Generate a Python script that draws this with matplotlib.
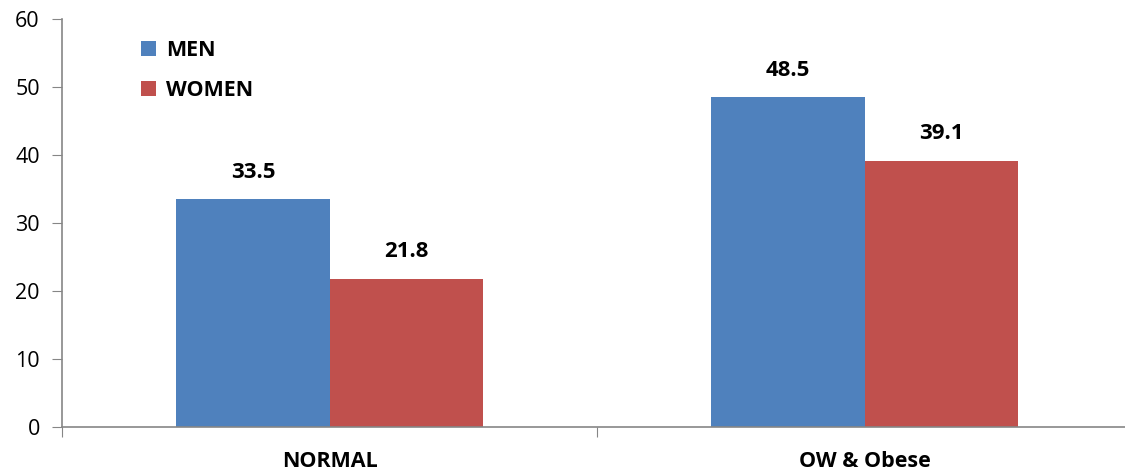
import matplotlib.pyplot as plt
import numpy as np

categories = ["NORMAL", "OW & Obese"]
men = [33.5, 48.5]
women = [21.8, 39.1]

plt.rcParams['font.family'] = ['Open Sans', 'DejaVu Sans']

fig = plt.figure(figsize=(11.25, 4.73), dpi=100)
ax = fig.add_axes([62/1125, 1-427/473, 1070/1125, 408/473])

x = np.arange(len(categories))
w = 0.286
b1 = ax.bar(x - w/2, men, w, color='#4f81bd', label='MEN')
b2 = ax.bar(x + w/2, women, w, color='#c0504d', label='WOMEN')

for bars, vals in ((b1, men), (b2, women)):
    for r, v in zip(bars, vals):
        ax.text(r.get_x() + r.get_width()/2, v + 4.0, f"{v:.1f}", ha='center', va='center',
                fontsize=16, fontweight='bold')

ax.set_xlim(-0.5, 1.5)
ax.set_ylim(0, 60)
ax.set_yticks(range(0, 61, 10))
ax.tick_params(axis='y', direction='out', length=7, color='#868686', labelsize=15.5, pad=9)
ax.set_xticks([-0.5, 0.5, 1.5])
ax.set_xticks(x, minor=True)
ax.set_xticklabels(['', '', ''])
ax.set_xticklabels(categories, minor=True, fontsize=15.5, fontweight='bold')
ax.tick_params(axis='x', which='major', direction='out', length=7, color='#868686')
ax.tick_params(axis='x', which='minor', length=0, pad=17)
for s in ['top', 'right']:
    ax.spines[s].set_visible(False)
for s in ['left', 'bottom']:
    ax.spines[s].set_color('#868686')
    ax.spines[s].set_linewidth(1.2)

leg = ax.legend(loc='upper left', bbox_to_anchor=(0.056, 0.995), frameon=False,
                prop={'size': 15.5, 'weight': 'bold'}, handlelength=0.7, handleheight=0.7,
                handletextpad=0.45, labelspacing=0.85)

fig.savefig('out.png', dpi=100)
